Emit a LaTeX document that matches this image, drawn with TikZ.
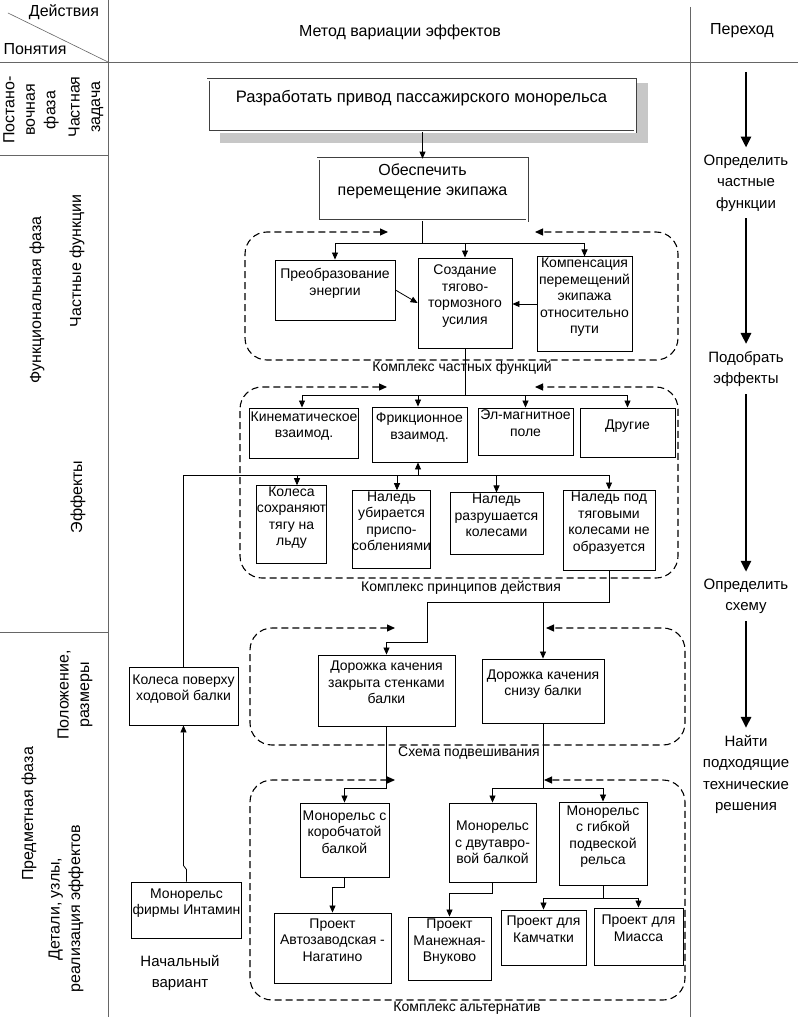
\documentclass[tikz,border=0pt]{standalone}
\usepackage{fontspec}
\setmainfont{Liberation Sans}
\usetikzlibrary{arrows.meta}
\newcommand{\fbx}{\fontsize{14}{16.5}\selectfont}
\newcommand{\fbig}{\fontsize{16}{20}\selectfont}
\newcommand{\fhuge}{\fontsize{16.6}{20}\selectfont}
\newcommand{\fside}{\fontsize{15}{21.5}\selectfont}
\newcommand{\fleft}{\fontsize{16}{20.5}\selectfont}
\newcommand{\xln}{\\\mbox{}}
\begin{document}
\begin{tikzpicture}[x=1pt,y=-1pt,
  grid/.style={draw=black!60, line width=0.9pt},
  bx/.style={draw=black, line width=0.9pt, align=center, font=\fbx, inner sep=1pt, fill=white},
  dbl/.style={draw=black!75, double=white, double distance=1.6pt, line width=0.7pt, align=center, font=\fbig, inner sep=2pt, fill=white},
  arr/.style={draw=black, line width=0.8pt, -{Triangle[length=7pt,width=6pt]}},
  ln/.style={draw=black, line width=0.8pt},
  dsh/.style={draw=black, line width=1.1pt, dash pattern=on 7pt off 4pt, rounded corners=22pt, {Triangle[length=8pt,width=7pt]}-{Triangle[length=8pt,width=7pt]}},
  big/.style={draw=black, line width=2.6pt, -{Triangle[length=11pt,width=10pt]}},
  lab/.style={font=\fbx, inner sep=0pt},
  side/.style={align=center, font=\fside, inner sep=7pt},
  lft/.style={rotate=90, align=center, font=\fleft, inner sep=0pt},
]
\fill[white] (0,0) rectangle (804,1024);
\useasboundingbox (0,0) rectangle (804,1024);

% grid
\draw[grid] (0,62) -- (798,62);
\draw[grid] (108,0) -- (108,1017);
\draw[grid] (690,7) -- (690,1017);
\draw[grid] (0,155) -- (108,155);
\draw[grid] (0,632) -- (108,632);
\draw[grid, line width=0.6pt] (8,13) -- (108,62);

% headers
\node[font=\fbig] (hA) at (64,12) {Действия};
\node[font=\fbig] (hB) at (35,49) {Понятия};
\node[font=\fbig] (hC) at (400,32) {Метод вариации эффектов};
\node[font=\fbig] (hD) at (742,31) {Переход};

% left column
\node[lft] (l1) at (31,110) {Постано-\\вочная\\фаза};
\node[lft] (l2) at (86,107) {Частная\\задача};
\node[lft] (l3) at (37,300) {Функциональная фаза};
\node[lft] (l4) at (77,261) {Частные функции};
\node[lft] (l5) at (78,497) {Эффекты};
\node[lft] (l6) at (29,814) {Предметная фаза};
\node[lft] (l7) at (75,695) {Положение,\\размеры};
\node[lft] (l8) at (66,909) {Детали, узлы,\\реализация эффектов};

% right column
\coordinate (a0) at (746,72);
\node[side] (t1) at (746,183) {Определить\\частные\\функции};
\node[side] (t2) at (746,369) {Подобрать\\эффекты};
\node[side] (t3) at (746,596.5) {Определить\\схему};
\node[side] (t4) at (746,774.5) {Найти\\подходящие\\технические\\решения};
\draw[big] (a0) -- (t1.north);
\draw[big] (t1.south) -- (t2.north);
\draw[big] (t2.south) -- (t3.north);
\draw[big] (t3.south) -- (t4.north);

% dashed regions
\draw[dsh] (388,232) -- (245,232) -- (245,360) -- (678,360) -- (678,232) -- (535,232);
\draw[dsh] (387,387) -- (240,387) -- (240,578) -- (678,578) -- (678,387) -- (535,387);
\draw[dsh] (395,628) -- (250,628) -- (250,745) -- (685,745) -- (685,628) -- (546,628);
\draw[dsh] (395,780) -- (250,780) -- (250,1000) -- (685,1000) -- (685,780) -- (544,780);
\node[lab] (L1) at (462,368) {Комплекс частных функций};
\node[lab] (L2) at (461,588) {Комплекс принципов действия};
\node[lab] (L3) at (469,753) {Схема подвешивания};
\node[lab] (L4) at (467,1008) {Комплекс альтернатив};

% top boxes
\fill[black!22] (220,83) rectangle (648,143);
\node[dbl, font=\fhuge, minimum width=427, minimum height=52] (b1) at (421.5,106) {Разработать привод пассажирского монорельса\xln};
\node[dbl, minimum width=209, minimum height=62] (b2) at (422.5,190) {Обеспечить\\перемещение экипажа\xln};

% functions
\node[bx, minimum width=120, minimum height=60] (p1) at (335,290) {Преобразование\\энергии\xln};
\node[bx, minimum width=94, minimum height=90] (p2) at (465,303) {Создание\\тягово-\\тормозного\\усилия\xln};
\node[bx, minimum width=95, minimum height=92] (p3) at (584.5,304) {Компенсация\\перемещений\\экипажа\\относительно\\пути\xln};

% effects
\node[bx, minimum width=108, minimum height=50] (e1) at (304,433) {Кинематическое\\взаимод.\xln};
\node[bx, minimum width=95, minimum height=55] (e2) at (419.5,434.5) {Фрикционное\\взаимод.\xln};
\node[bx, minimum width=95, minimum height=47] (e3) at (525.5,431.5) {Эл-магнитное\\поле\xln};
\node[bx, minimum width=95, minimum height=49] (e4) at (627.5,432.5) {Другие\xln};
\node[bx, minimum width=67, minimum height=75, inner xsep=0pt] (q1) at (291.5,524.5) {Колеса\\сохраняют\\тягу на\\льду\xln};
\node[bx, minimum width=73, minimum height=75, inner xsep=0pt] (q2) at (391.5,529.5) {Наледь\\убирается\\приспо-\\соблениями\xln};
\node[bx, minimum width=93, minimum height=57] (q3) at (496.5,523.5) {Наледь\\разрушается\\колесами\xln};
\node[bx, minimum width=92, minimum height=80] (q4) at (609,530) {Наледь под\\тяговыми\\колесами не\\образуется\xln};

% scheme
\node[bx, minimum width=109, minimum height=58] (k0) at (183.5,696) {Колеса поверху\\ходовой балки\xln};
\node[bx, minimum width=137, minimum height=71] (s1) at (386.5,690.5) {Дорожка качения\\закрыта стенками\\балки\xln};
\node[bx, minimum width=122, minimum height=64] (s2) at (543,691) {Дорожка качения\\снизу балки\xln};

% alternatives
\node[bx, minimum width=89, minimum height=74] (m1) at (344.5,840) {Монорельс с\\коробчатой\\балкой\xln};
\node[bx, minimum width=87, minimum height=79] (m2) at (492.5,842.5) {Монорельс\\с двутавро-\\вой балкой};
\node[bx, minimum width=88, minimum height=83] (m3) at (603,843.5) {Монорельс\\с гибкой\\подвеской\\рельса\xln};
\node[bx, minimum width=117, minimum height=70] (r1) at (332.5,948) {Проект\\Автозаводская -\\Нагатино\xln};
\node[bx, minimum width=83, minimum height=63] (r2) at (449.5,948.5) {Проект\\Манежная-\\Внуково\xln};
\node[bx, minimum width=85, minimum height=55] (r3) at (543.5,937.5) {Проект для\\Камчатки\xln};
\node[bx, minimum width=89, minimum height=57] (r4) at (638.5,936.5) {Проект для\\Миасса\xln};
\node[bx, minimum width=108, minimum height=56] (i0) at (186.5,910) {Монорельс\\фирмы Интамин\xln};
\node[side, inner sep=0pt] (nv) at (180,973) {Начальный\\вариант};

% connectors
\draw[arr] (b1.south -| b2.north) -- (b2.north);
\coordinate (j1) at (422.5,243);
\draw[ln] (b2.south) -- (j1);
\draw[arr] (j1) -| (p1.north);
\draw[arr] (j1) -| (p3.north);
\draw[arr] (j1 -| p2.north) -- (p2.north);
\draw[arr] (p1.east) -- (p2.west);
\draw[arr] (p3.west) -- (p3.west -| p2.east);

\coordinate (j2) at (465,395);
\coordinate (e1t) at ([xshift=-2pt]e1.north);
\coordinate (e2t) at ([xshift=-1.5pt]e2.north);
\draw[ln] (p2.south) -- (j2);
\draw[arr] (j2) -| (e1t);
\draw[arr] (j2) -| (e2t);
\draw[arr] (j2) -| (e3.north);
\draw[arr] (j2) -| (e4.north);

\coordinate (j3) at (418,475);
\coordinate (q1t) at ([xshift=5.5pt]q1.north);
\coordinate (q2t) at ([xshift=5.5pt]q2.north);
\draw[ln] (k0.north) |- (q4.north |- j3);
\draw[arr] (j3) -- (j3 |- e2.south);
\draw[arr] (q1t |- j3) -- (q1t);
\draw[arr] (q2t |- j3) -- (q2t);
\draw[arr] (q3.north |- j3) -- (q3.north);
\draw[arr] (q4.north |- j3) -- (q4.north);

\coordinate (c1) at (427,602);
\coordinate (c2) at (427,642);
\draw[arr] (q4.south) |- (c1) -- (c2) -| (s1.north);
\draw[arr] (s2.north |- c1) -- (s2.north);

\coordinate (c3) at (386.5,788);
\draw[arr] (s1.south) -- (c3) -| (m1.north);
\coordinate (c4) at (543,788);
\draw[ln] (s2.south) -- (c4);
\draw[arr] (c4) -| (m2.north);
\draw[arr] (c4) -| (m3.north);
\draw[arr] (m1.south) -- ++(0,10) -| (r1.north);
\draw[arr] (m2.south) -- ++(0,11) -| (r2.north);
\draw[ln] (m3.south) -- ++(0,13) coordinate (c5);
\draw[arr] (c5) -| (r3.north);
\draw[arr] (c5) -| (r4.north);
\draw[arr] (i0.north) -- ++(0,-12) -- ++(-3,-4) -- (k0.south);
\end{tikzpicture}
\end{document}
